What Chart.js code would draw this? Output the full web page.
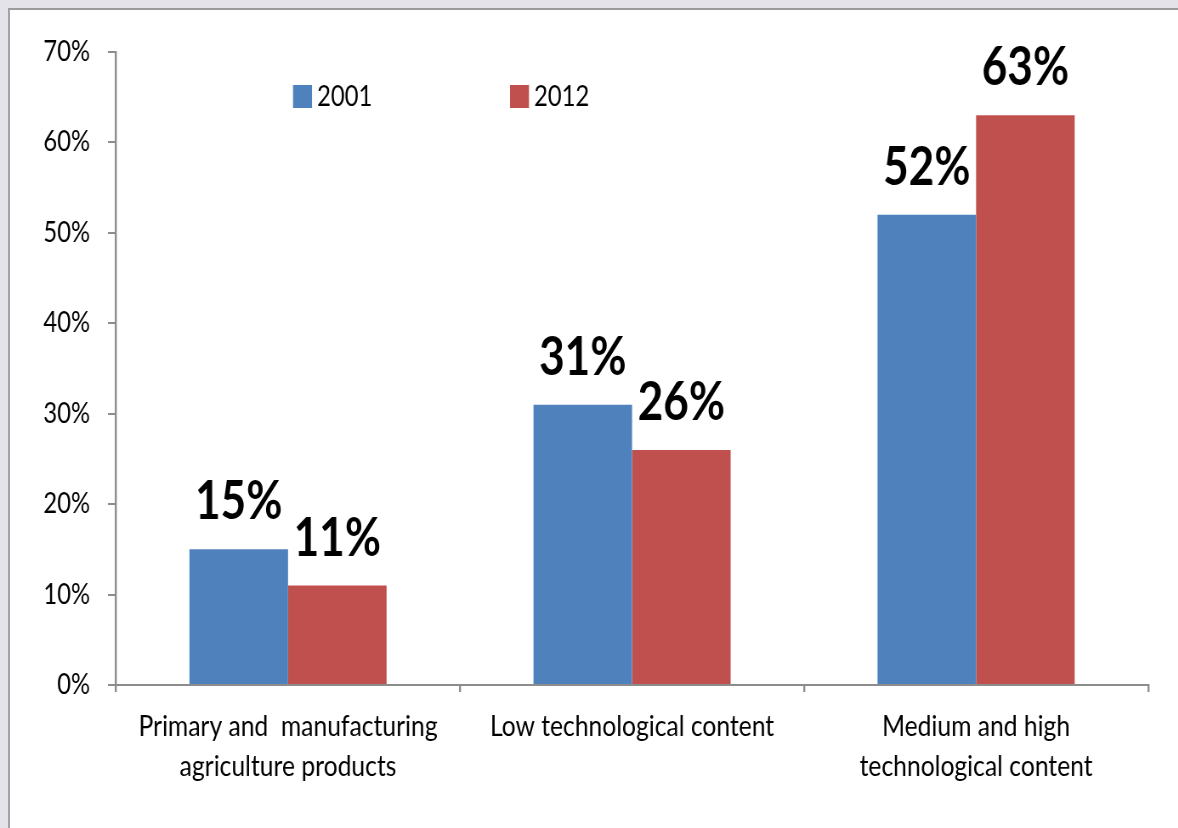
<!DOCTYPE html>
<html><head><meta charset="utf-8">
<script src="https://cdn.jsdelivr.net/npm/chart.js@4"></script>
<style>
html,body{margin:0;padding:0;background:#e3e3e9;overflow:hidden;width:1178px;height:828px;}
#frame{position:absolute;left:8px;top:8px;width:1200px;height:900px;background:#fff;border-left:2px solid #a3a3a3;border-top:2px solid #9a9a9a;}
#wrap{position:absolute;left:0;top:0;width:1386px;height:828px;transform:scaleX(0.85);transform-origin:0 0;}
</style></head><body>
<div id="frame"></div>
<div id="wrap"><canvas id="c" width="1386" height="828"></canvas></div>
<script>
const categories = [["Primary and  manufacturing","agriculture products"],["Low technological content"],["Medium and high","technological content"]];
const seriesNames = ["2001","2012"];
const values2001 = [15,31,52];
const values2012 = [11,26,63];
const yTicks = [0,10,20,30,40,50,60,70];

const SX = 0.85;
const FONT = "Lato, 'Open Sans', sans-serif";
const AXIS = '#8c8c8c';

const dataLabels = {
  id:'dataLabels',
  afterDatasetsDraw(chart){
    const ctx = chart.ctx;
    ctx.save();
    ctx.font = "bold 54px " + FONT;
    ctx.fillStyle = '#000';
    ctx.textAlign = 'center';
    ctx.textBaseline = 'alphabetic';
    chart.data.datasets.forEach((ds,i)=>{
      const meta = chart.getDatasetMeta(i);
      meta.data.forEach((bar,j)=>{
        ctx.save();
        ctx.translate(bar.x, bar.y - 30);
        ctx.scale(0.96, 1);
        ctx.fillText(ds.data[j] + '%', 0, 0);
        ctx.restore();
      });
    });
    ctx.restore();
  }
};

const insideLegend = {
  id:'insideLegend',
  afterDraw(chart){
    const ctx = chart.ctx;
    const xs = [293 / SX, 510 / SX];
    ctx.save();
    ctx.font = "28px " + FONT;
    ctx.textBaseline = 'alphabetic';
    ctx.textAlign = 'left';
    chart.data.datasets.forEach((ds,i)=>{
      ctx.fillStyle = ds.backgroundColor;
      ctx.fillRect(xs[i], 85, 19 / SX, 23);
      ctx.fillStyle = '#000';
      ctx.fillText(ds.label, xs[i] + 24 / SX, 106);
    });
    ctx.restore();
  }
};

new Chart(document.getElementById('c'), {
  type:'bar',
  data:{
    labels: categories,
    datasets:[
      {label: seriesNames[0], data: values2001, backgroundColor:'#4f81bd', borderWidth:0},
      {label: seriesNames[1], data: values2012, backgroundColor:'#c0504d', borderWidth:0}
    ]
  },
  options:{
    responsive:false,
    animation:false,
    devicePixelRatio:1,
    datasets:{bar:{categoryPercentage:0.573, barPercentage:1}},
    layout:{padding:{left:0, right:30 / SX, top:52, bottom:0}},
    plugins:{legend:{display:false}, tooltip:{enabled:false}},
    scales:{
      x:{
        grid:{drawOnChartArea:false, drawTicks:true, tickLength:7, color:AXIS, lineWidth:2 / SX},
        border:{display:true, color:AXIS, width:2},
        ticks:{font:{family:FONT, size:29, lineHeight:1.36}, color:'#000', padding:15, maxRotation:0, autoSkip:false},
        afterFit(s){ s.height = 143; }
      },
      y:{
        min:0, max:70,
        afterBuildTicks(s){ s.ticks = yTicks.map(v=>({value:v})); },
        grid:{drawOnChartArea:false, drawTicks:true, tickLength:8 / SX, color:AXIS, lineWidth:2},
        border:{display:true, color:AXIS, width:2 / SX},
        ticks:{font:{family:FONT, size:28}, color:'#000', padding:18 / SX, callback:v=>v+'%'},
        afterFit(s){ s.width = 116 / SX; }
      }
    }
  },
  plugins:[dataLabels, insideLegend]
});
</script>
</body></html>
